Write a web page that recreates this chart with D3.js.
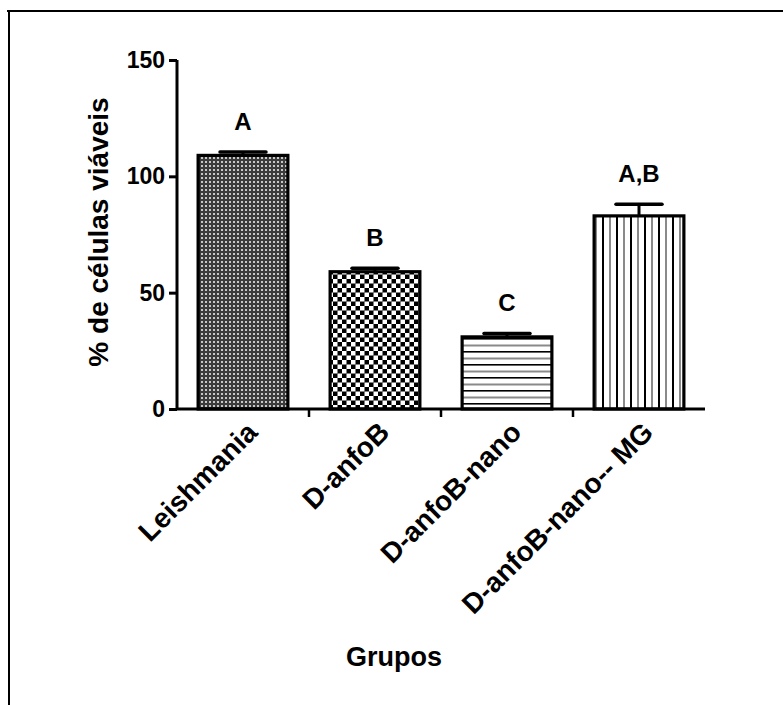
<!DOCTYPE html>
<html>
<head>
<meta charset="utf-8">
<script src="https://cdn.jsdelivr.net/npm/d3@7/dist/d3.min.js"></script>
<style>
  html, body { margin: 0; padding: 0; background: #fff; }
  svg { display: block; font-family: "Liberation Sans", Arial, sans-serif; }
</style>
</head>
<body>
<svg id="chart" width="783" height="705"></svg>
<script>
// Cell viability per treatment group (mean and upper SEM)
const groups = ["Leishmania", "D-anfoB", "D-anfoB-nano", "D-anfoB-nano-- MG"];
const means = [109, 59, 31, 83];
const errors = [1.5, 1.5, 1.5, 5];
const letters = ["A", "B", "C", "A,B"];
const yTicks = [0, 50, 100, 150];
const patternIds = ["pat-dots", "pat-check", "pat-hlines", "pat-vlines"];

const svg = d3.select("#chart");

// Outer frame (top and left rules)
svg.append("line").attr("x1", 7).attr("x2", 783).attr("y1", 11).attr("y2", 11)
  .attr("stroke", "#000").attr("stroke-width", 2);
svg.append("line").attr("x1", 9).attr("x2", 9).attr("y1", 10).attr("y2", 705)
  .attr("stroke", "#000").attr("stroke-width", 2);

// Fill patterns
const defs = svg.append("defs");

const pDots = defs.append("pattern").attr("id", "pat-dots")
  .attr("patternUnits", "userSpaceOnUse").attr("width", 4).attr("height", 4);
pDots.append("rect").attr("width", 4).attr("height", 4).attr("fill", "#3c3c3c");
pDots.append("rect").attr("x", 1).attr("y", 1).attr("width", 2).attr("height", 2).attr("fill", "#c8c8c8");

const pCheck = defs.append("pattern").attr("id", "pat-check")
  .attr("patternUnits", "userSpaceOnUse").attr("width", 9).attr("height", 9);
pCheck.append("rect").attr("width", 9).attr("height", 9).attr("fill", "#000");
pCheck.append("rect").attr("x", 0).attr("y", 0).attr("width", 4.5).attr("height", 4.5).attr("fill", "#fff");
pCheck.append("rect").attr("x", 4.5).attr("y", 4.5).attr("width", 4.5).attr("height", 4.5).attr("fill", "#fff");

const pH = defs.append("pattern").attr("id", "pat-hlines")
  .attr("patternUnits", "userSpaceOnUse").attr("width", 10).attr("height", 13);
pH.append("rect").attr("width", 10).attr("height", 13).attr("fill", "#fff");
pH.append("rect").attr("y", 0).attr("width", 10).attr("height", 1.6).attr("fill", "#000");
pH.append("rect").attr("y", 6.5).attr("width", 10).attr("height", 2).attr("fill", "#8a8a8a");

const pV = defs.append("pattern").attr("id", "pat-vlines")
  .attr("patternUnits", "userSpaceOnUse").attr("width", 14).attr("height", 10);
pV.append("rect").attr("width", 14).attr("height", 10).attr("fill", "#fff");
pV.append("rect").attr("x", 0).attr("width", 2).attr("height", 10).attr("fill", "#000");
pV.append("rect").attr("x", 7).attr("width", 2).attr("height", 10).attr("fill", "#8a8a8a");

// Scales
const x = d3.scaleBand().domain(groups).range([177, 705]).paddingInner(0.32).paddingOuter(0.16);
const y = d3.scaleLinear().domain([0, 150]).range([409, 60]);
const step = x.step();

const g = svg.append("g");

// Bars
g.selectAll("rect.bar").data(groups).join("rect")
  .attr("class", "bar")
  .attr("x", d => x(d))
  .attr("y", (d, i) => y(means[i]))
  .attr("width", x.bandwidth())
  .attr("height", (d, i) => y(0) - y(means[i]))
  .attr("fill", (d, i) => `url(#${patternIds[i]})`)
  .attr("stroke", "#000").attr("stroke-width", 3.2);

// Upper error bars
const capW = 46;
g.selectAll("line.err").data(groups).join("line")
  .attr("class", "err")
  .attr("x1", d => x(d) + x.bandwidth() / 2).attr("x2", d => x(d) + x.bandwidth() / 2)
  .attr("y1", (d, i) => y(means[i])).attr("y2", (d, i) => y(means[i] + errors[i]))
  .attr("stroke", "#000").attr("stroke-width", 3);
g.selectAll("line.cap").data(groups).join("line")
  .attr("class", "cap")
  .attr("x1", d => x(d) + x.bandwidth() / 2 - capW / 2).attr("x2", d => x(d) + x.bandwidth() / 2 + capW / 2)
  .attr("y1", (d, i) => y(means[i] + errors[i])).attr("y2", (d, i) => y(means[i] + errors[i]))
  .attr("stroke", "#000").attr("stroke-width", 3.5).attr("stroke-linecap", "round");

// Significance letters
g.selectAll("text.sig").data(groups).join("text")
  .attr("class", "sig")
  .attr("x", d => x(d) + x.bandwidth() / 2)
  .attr("y", (d, i) => y(means[i] + errors[i]) - 22)
  .attr("text-anchor", "middle")
  .attr("font-size", 24).attr("font-weight", "bold")
  .text((d, i) => letters[i]);

// Y axis
const yAxis = g.append("g").attr("transform", "translate(177,0)")
  .call(d3.axisLeft(y).tickValues(yTicks).tickSize(8).tickPadding(4));
yAxis.select(".domain").attr("stroke", "#000").attr("stroke-width", 3)
  .attr("d", `M0,${y(150)}V${y(0)}`);
yAxis.selectAll(".tick line").attr("stroke", "#000").attr("stroke-width", 3);
yAxis.selectAll(".tick text").attr("font-size", 23).attr("font-weight", "bold")
  .attr("fill", "#000").attr("font-family", "Liberation Sans, Arial, sans-serif");

// X axis: baseline and separator ticks between groups
const xAxis = g.append("g");
xAxis.append("line").attr("x1", 177).attr("x2", 705).attr("y1", y(0)).attr("y2", y(0))
  .attr("stroke", "#000").attr("stroke-width", 3);
xAxis.selectAll("line.sep").data(groups.slice(1)).join("line")
  .attr("class", "sep")
  .attr("x1", d => x(d) - step * x.paddingInner() / 2)
  .attr("x2", d => x(d) - step * x.paddingInner() / 2)
  .attr("y1", y(0)).attr("y2", y(0) + 8)
  .attr("stroke", "#000").attr("stroke-width", 2.5);

// Rotated group labels
xAxis.selectAll("text.grp").data(groups).join("text")
  .attr("class", "grp")
  .attr("transform", d => `translate(${x(d) + x.bandwidth() / 2 + 16},${y(0) + 25}) rotate(-45)`)
  .attr("text-anchor", "end")
  .attr("font-size", 28).attr("font-weight", "bold")
  .text(d => d);

// Axis titles
svg.append("text")
  .attr("transform", "translate(108,232) rotate(-90)")
  .attr("text-anchor", "middle")
  .attr("font-size", 28).attr("font-weight", "bold")
  .text("% de células viáveis");

svg.append("text")
  .attr("x", 394).attr("y", 666)
  .attr("text-anchor", "middle")
  .attr("font-size", 27).attr("font-weight", "bold")
  .text("Grupos");
</script>
</body>
</html>
